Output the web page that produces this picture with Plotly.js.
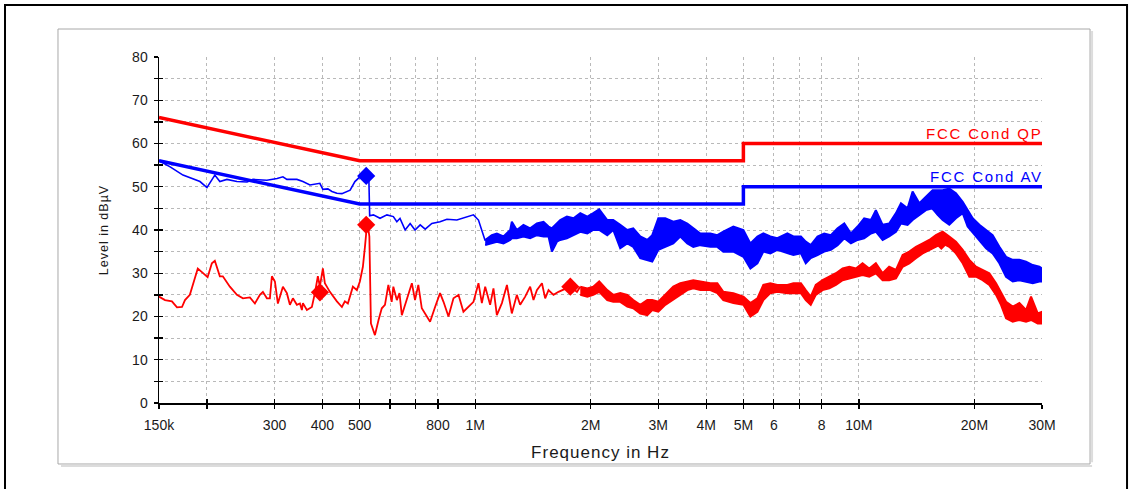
<!DOCTYPE html>
<html>
<head>
<meta charset="utf-8">
<script src="https://cdn.plot.ly/plotly-3.0.1.min.js"></script>
<style>
html,body{margin:0;padding:0;background:#fff;}
#chart{width:1131px;height:489px;}
</style>
</head>
<body>
<div id="chart"></div>
<script>
// ---------- data ----------
const limitF = [150e3, 500e3, 5e6, 5e6, 30e6];
const qpLimit = [66, 56, 56, 60, 60];
const avLimit = [56, 46, 46, 50, 50];

// AV (blue) measurement, thin part
const blueLineF = [150e3,160.4e3,173.2e3,183.9e3,191.8e3,200e3,209.7e3,216.1e3,225.4e3,239.4e3,254.4e3,263.7e3,286.6e3,304.7e3,315.5e3,323.1e3,343.1e3,355.7e3,371e3,393.8e3,401e3,413.2e3,423.3e3,436.2e3,449.5e3,472.2e3,486e3,500.7e3,519e3,528.3e3,531e3,543e3,565e3,589e3,612e3,625e3,637e3,657e3,677e3,697e3,719e3,741e3,771e3,810e3,844e3,896e3,951e3,990e3,1020e3,1041e3,1062e3];
const blueLineV = [56.0,54.6,52.7,51.9,51.2,49.8,52.7,51.2,51.7,51.2,51.1,51.7,51.5,51.9,52.3,51.7,51.7,51.2,50.4,50.8,49.4,49.5,48.9,48.5,48.4,49.2,51.2,52.3,52.4,52.2,43.3,43.5,42.7,43.5,43.1,41.9,42.7,40.0,41.5,40.0,41.2,40.2,41.5,41.9,42.5,42.3,43.0,43.5,42.3,40.0,37.5];

// AV (blue) measurement, noisy band: upper / lower envelope
const blueBandF = [1.062e6,1.105e6,1.139e6,1.185e6,1.234e6,1.246e6,1.284e6,1.336e6,1.391e6,1.448e6,1.507e6,1.553e6,1.585e6,1.633e6,1.666e6,1.734e6,1.804e6,
  1.879e6,1.960e6,2.031e6,2.105e6,2.209e6,2.290e6,2.388e6,2.491e6,2.582e6,2.693e6,2.809e6,2.894e6,3.001e6,3.129e6,3.283e6,3.424e6,3.571e6,3.702e6,3.861e6,4.100e6,4.276e6,4.433e6,4.708e6,5.000e6,5.214e6,5.438e6,5.636e6,5.877e6,6.130e6,6.510e6,6.750e6,
  7.060e6,7.270e6,7.490e6,7.800e6,8.120e6,8.450e6,8.800e6,9.160e6,9.530e6,9.920e6,10.32e6,10.75e6,11.07e6,11.53e6,11.99e6,12.49e6,12.87e6,13.39e6,13.80e6,14.37e6,14.95e6,15.56e6,16.04e6,16.53e6,17.20e6,17.90e6,18.64e6,19.20e6,19.79e6,20.60e6,21.44e6,22.31e6,23.23e6,24.18e6,25.17e6,26.19e6,27.26e6,28.38e6,29.53e6,30.0e6];
const blueBandHi = [37.7,38.8,39.2,38.5,40.0,41.9,40.0,41.2,40.4,41.5,41.9,40.8,40.4,41.5,42.3,43.1,42.7,
  43.9,43.1,43.9,44.8,42.3,42.3,41.2,40.0,40.4,38.5,37.7,38.8,42.7,42.7,41.9,42.3,41.5,40.4,39.2,39.2,38.8,39.6,40.8,40.0,36.9,38.5,39.2,38.5,38.1,39.2,38.5,
  38.5,37.3,36.5,38.5,39.2,38.8,40.4,41.5,39.2,40.8,42.7,42.3,44.6,41.2,41.5,43.9,46.2,45.0,48.9,46.2,47.7,49.2,49.2,49.2,49.6,48.5,46.5,44.6,42.7,41.2,40.0,38.8,36.1,33.8,33.1,33.1,32.7,31.9,31.5,31.1];
const blueBandLo = [36.5,36.9,37.3,36.9,37.7,38.1,38.1,38.5,38.1,38.8,38.5,38.5,35.0,37.3,37.7,38.1,38.8,
  39.6,39.2,40.0,40.0,38.8,40.0,35.8,36.9,36.1,33.5,33.1,32.7,35.4,36.1,36.9,38.5,36.9,36.1,36.5,36.1,36.1,35.0,35.0,33.8,31.1,32.3,35.0,34.6,35.4,34.6,34.2,
  34.6,32.3,33.5,34.2,35.0,35.4,36.5,38.1,36.9,37.7,38.1,39.2,39.6,37.7,38.5,39.6,41.5,41.2,42.3,43.5,44.6,45.0,43.5,42.3,41.2,42.7,43.9,40.8,39.6,37.7,35.8,34.6,32.3,29.2,28.1,28.4,28.1,27.7,28.1,28.1];

// QP (red) measurement, thin part
const redLineF = [150e3,155.5e3,162.1e3,167.1e3,172.2e3,175.3e3,180.5e3,189.3e3,195.1e3,200.8e3,206e3,209.7e3,216.1e3,220e3,229.5e3,239.4e3,248.2e3,258.8e3,266.7e3,274.8e3,279.8e3,286.6e3,291.8e3,295.3e3,300.7e3,306.1e3,315.5e3,323.1e3,329e3,335e3,343.1e3,349.4e3,353.6e3,355.7e3,364.3e3,375.4e3,382.2e3,389.1e3,393.8e3,401e3,405.8e3,418.2e3,436.2e3,449.5e3,457.6e3,465.9e3,480.1e3,491.8e3,500.7e3,509.8e3,516e3,521e3,525e3,530e3,535e3,548e3,560e3,571e3,582e3,594e3,606e3,612e3,625e3,635e3,644e3,657e3,684e3,697e3,711e3,726e3,748e3,763e3,787e3,810e3,827e3,852e3,878e3,905e3,932e3,961e3,990e3,1020e3,1041e3,1062e3,1094e3,1116e3,1139e3,1174e3,1210e3,1246e3,1284e3,1310e3,1350e3,1391e3,1419e3,1448e3,1493e3,1522e3,1553e3,1600e3,1649e3,1769e3,1842e3,1879e3];
const redLineV = [24.6,23.8,23.5,22.1,22.2,23.8,25.0,31.1,30.1,29.1,32.3,32.9,29.3,29.3,26.9,25.0,24.2,24.4,23.0,25.0,25.7,24.2,24.2,29.3,28.1,23.0,26.9,25.4,22.7,24.2,22.7,23.0,21.5,23.1,21.5,22.2,25.4,29.3,26.9,31.1,27.7,25.7,23.5,22.2,23.5,23.0,26.9,26.1,28.1,31.5,36.0,40.0,41.2,38.5,18.4,15.7,19.2,21.9,22.7,27.3,23.4,26.9,23.8,25.4,20.3,22.7,27.7,23.8,27.3,21.9,20.0,18.8,22.3,25.4,23.4,20.0,24.2,25.0,21.1,22.3,23.4,27.7,23.1,26.9,22.7,26.5,20.3,23.1,27.3,20.7,25.0,22.7,24.6,26.9,23.8,26.1,27.7,24.2,26.1,25.0,25.7,26.9,25.7,26.9];

// QP (red) measurement, noisy band
const redBandF = [1.879e6,1.960e6,2.031e6,2.105e6,2.209e6,2.290e6,2.388e6,2.491e6,2.582e6,2.693e6,2.809e6,2.894e6,3.001e6,3.129e6,3.283e6,3.424e6,3.571e6,3.702e6,3.861e6,4.100e6,4.276e6,4.433e6,4.708e6,5.000e6,5.214e6,5.438e6,5.636e6,5.877e6,6.130e6,6.510e6,6.750e6,
  7.060e6,7.270e6,7.490e6,7.720e6,8.040e6,8.370e6,8.710e6,9.070e6,9.440e6,9.820e6,10.22e6,10.64e6,11.07e6,11.53e6,11.99e6,12.49e6,13.00e6,13.53e6,14.08e6,14.66e6,15.25e6,15.87e6,16.53e6,17.20e6,17.90e6,18.64e6,19.40e6,20.19e6,21.01e6,21.87e6,22.77e6,23.46e6,24.18e6,25.17e6,26.19e6,27.26e6,28.09e6,29.24e6,30.0e6];
const redBandHi = [26.9,26.5,26.9,28.1,26.1,25.0,25.4,25.0,23.8,22.7,23.8,23.8,23.4,25.0,26.9,27.7,28.1,28.4,28.1,27.7,27.7,25.7,25.4,24.6,23.1,24.2,27.3,27.7,27.3,27.3,27.7,
  27.7,26.1,24.6,27.3,28.4,29.2,30.0,31.1,31.5,31.1,32.3,31.1,32.3,30.0,31.5,30.8,34.2,35.0,36.1,36.9,37.7,38.8,39.6,38.5,37.3,35.4,33.1,31.5,30.8,30.0,27.7,25.4,23.4,22.3,23.1,21.5,24.6,20.7,21.1];
const redBandLo = [25.0,24.6,25.0,25.7,23.8,23.4,23.4,22.3,21.9,20.7,20.3,21.5,21.1,22.7,23.8,25.0,26.1,26.5,26.1,26.1,25.4,23.8,23.1,22.7,20.0,21.1,23.8,25.4,25.7,25.4,25.4,
  25.4,23.8,22.7,25.0,26.1,26.5,27.3,28.4,28.8,29.2,29.6,29.2,30.0,28.4,28.4,28.8,31.5,32.3,33.5,34.6,35.4,36.1,36.9,36.1,34.6,32.3,29.2,29.2,28.4,27.3,25.0,22.7,19.6,18.8,19.2,18.8,19.2,18.4,18.4];

// peak markers
const redMarkF = [394e3, 520e3, 1.77e6, 16.4e6];
const redMarkV = [25.6, 41.2, 26.9, 37.5];
const blueMarkF = [520e3, 16.2e6];
const blueMarkV = [52.5, 45.1];

// axis ticks
const xTickVals = [150e3,200e3,300e3,400e3,500e3,600e3,700e3,800e3,1e6,2e6,3e6,4e6,5e6,6e6,7e6,8e6,10e6,20e6,30e6];
const xTickText = ['150k','','300','400','500','','','800','1M','2M','3M','4M','5M','6','','8','10M','20M','30M'];
const yTickVals = [0,5,10,15,20,25,30,35,40,45,50,55,60,65,70,75,80];
const yTickText = ['0','','10','','20','','30','','40','','50','','60','','70','','80'];

// ---------- build ----------
const RED = '#ff0000', BLUE = '#0000ff';
function band(f, hi, lo, color) {
  return {
    x: f.concat(f.slice().reverse()),
    y: hi.concat(lo.slice().reverse()),
    mode: 'lines', fill: 'toself', fillcolor: color,
    line: {color: color, width: 2}, hoverinfo: 'skip', type: 'scatter'
  };
}
const traces = [
  {x: limitF, y: qpLimit, mode: 'lines', line: {color: RED, width: 3.5}, type: 'scatter'},
  {x: limitF, y: avLimit, mode: 'lines', line: {color: BLUE, width: 3.5}, type: 'scatter'},
  {x: blueLineF, y: blueLineV, mode: 'lines', line: {color: BLUE, width: 1.6}, type: 'scatter'},
  band(blueBandF, blueBandHi, blueBandLo, BLUE),
  {x: redLineF, y: redLineV, mode: 'lines', line: {color: RED, width: 1.8}, type: 'scatter'},
  band(redBandF, redBandHi, redBandLo, RED),
  {x: redMarkF, y: redMarkV, mode: 'markers', marker: {symbol: 'diamond', size: 14, color: RED}, type: 'scatter'},
  {x: blueMarkF, y: blueMarkV, mode: 'markers', marker: {symbol: 'diamond', size: 14, color: BLUE}, type: 'scatter'},
  // carrier for the overlay axes (inner half of the crossing ticks)
  {x: [xTickVals[0]], y: [yTickVals[0]], xaxis: 'x2', yaxis: 'y2', mode: 'markers', marker: {opacity: 0}, hoverinfo: 'skip', type: 'scatter'}
];

const xr = [Math.log10(150e3), Math.log10(30e6)];
const FONT = 'Liberation Sans, Arial, sans-serif';
const gridC = '#b9b9b9';

const layout = {
  width: 1131, height: 489,
  margin: {l: 159, r: 89, t: 57, b: 86},
  paper_bgcolor: '#ffffff', plot_bgcolor: '#ffffff',
  showlegend: false,
  font: {family: FONT, size: 14, color: '#1a1a1a'},
  xaxis: {
    type: 'log', range: xr, tickmode: 'array', tickvals: xTickVals, ticktext: xTickText,
    ticks: 'outside', ticklen: 4, tickwidth: 1.3, tickcolor: '#000',
    showline: true, linecolor: '#000', linewidth: 1.5,
    showgrid: true, gridcolor: gridC, griddash: 'dot', gridwidth: 1,
    zeroline: false, ticklabelstandoff: 5,
    tickfont: {family: FONT, size: 14, color: '#1a1a1a'},
    title: {text: '<span style="letter-spacing:1px">Frequency in Hz</span>', font: {family: FONT, size: 17, color: '#1a1a1a'}, standoff: 14}
  },
  xaxis2: {
    type: 'log', range: xr, overlaying: 'x', anchor: 'y', side: 'bottom',
    tickmode: 'array', tickvals: xTickVals, ticks: 'inside', ticklen: 4, tickwidth: 1.3, tickcolor: '#000',
    showticklabels: false, showgrid: false, showline: false, zeroline: false
  },
  yaxis: {
    range: [0, 80], tickmode: 'array', tickvals: yTickVals, ticktext: yTickText,
    ticks: 'outside', ticklen: 4, tickwidth: 1.3, tickcolor: '#000',
    showline: true, linecolor: '#000', linewidth: 1.5,
    showgrid: true, gridcolor: gridC, griddash: 'dot', gridwidth: 1,
    zeroline: false, ticklabelstandoff: 3,
    tickfont: {family: FONT, size: 14, color: '#1a1a1a'},
    title: {text: '<span style="letter-spacing:1px">Level in dBµV</span>', font: {family: FONT, size: 12.5, color: '#1a1a1a'}, standoff: 20}
  },
  yaxis2: {
    range: [0, 80], overlaying: 'y', anchor: 'x', side: 'left',
    tickmode: 'array', tickvals: yTickVals, ticks: 'inside', ticklen: 4, tickwidth: 1.3, tickcolor: '#000',
    showticklabels: false, showgrid: false, showline: false, zeroline: false
  },
  annotations: [
    {xref: 'paper', x: 1, xanchor: 'right', xshift: 3, yref: 'y', y: 60, yanchor: 'bottom', yshift: 0,
     text: '<span style="letter-spacing:1.8px">FCC Cond QP</span>', showarrow: false,
     font: {family: FONT, size: 15, color: RED}},
    {xref: 'paper', x: 1, xanchor: 'right', xshift: 3, yref: 'y', y: 50, yanchor: 'bottom', yshift: 0,
     text: '<span style="letter-spacing:1.8px">FCC Cond AV</span>', showarrow: false,
     font: {family: FONT, size: 15, color: BLUE}}
  ],
  shapes: [
    // outer black frame
    {type: 'rect', xref: 'paper', yref: 'paper', x0: -0.1744, x1: 1.0963, y0: -0.27, y1: 1.1503,
     line: {color: '#000', width: 2}, fillcolor: 'rgba(0,0,0,0)', layer: 'below'},
    // inner grey panel with soft shadow
    {type: 'line', xref: 'paper', yref: 'paper', x0: 1.0567, x1: 1.0567, y0: -0.171, y1: 1.075,
     line: {color: '#dcdcdc', width: 2}, layer: 'below'},
    {type: 'line', xref: 'paper', yref: 'paper', x0: -0.111, x1: 1.0567, y0: -0.1821, y1: -0.1821,
     line: {color: '#dcdcdc', width: 2}, layer: 'below'},
    {type: 'rect', xref: 'paper', yref: 'paper', x0: -0.1144, x1: 1.0544, y0: -0.1763, y1: 1.0809,
     line: {color: '#a8a8a8', width: 1}, fillcolor: 'rgba(0,0,0,0)', layer: 'below'}
  ]
};

Plotly.newPlot('chart', traces, layout, {staticPlot: true, displayModeBar: false});
</script>
</body>
</html>
